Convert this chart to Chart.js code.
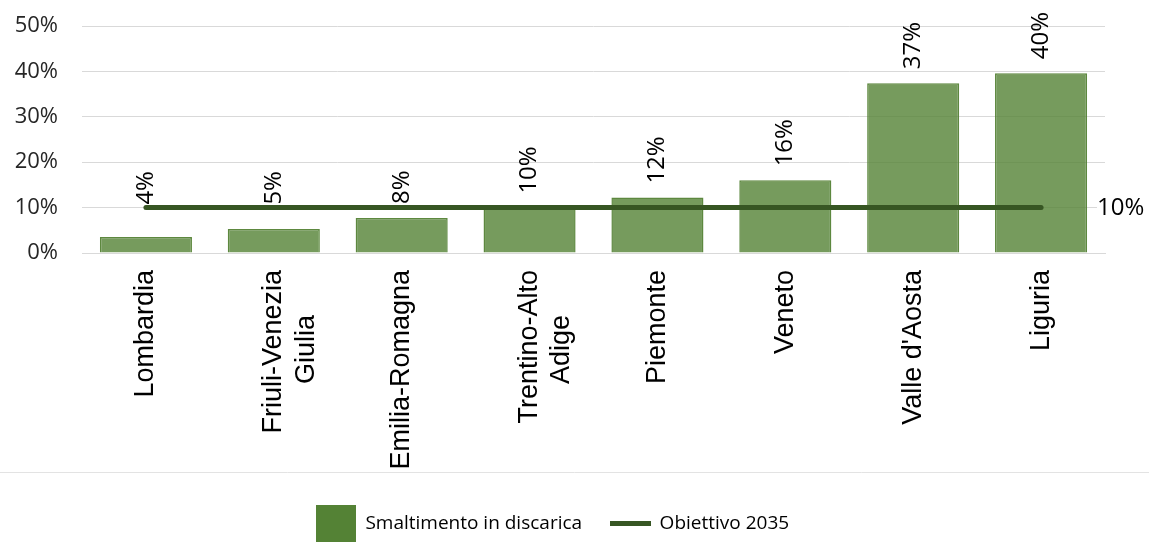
<!DOCTYPE html>
<html>
<head>
<meta charset="utf-8">
<script src="https://cdn.jsdelivr.net/npm/chart.js@4/dist/chart.umd.min.js"></script>
<style>
  html, body { margin: 0; background: #fff; }
  #wrap { width: 1149px; height: 543px; }
</style>
</head>
<body>
<div id="wrap"><canvas id="chart"></canvas></div>
<script>
// Data (second lines padded so they sit centred under the first)
const regions = ["Lombardia", ["Friuli-Venezia", "Giulia      "], "Emilia-Romagna", ["Trentino-Alto", "Adige      "],
  "Piemonte", "Veneto", "Valle d'Aosta", "Liguria"];
const landfillShare = [3.5, 5.3, 7.7, 10.0, 12.2, 16.0, 37.4, 39.6];
const target2035 = [10, 10, 10, 10, 10, 10, 10, 10];
const yTicks = [0, 10, 20, 30, 40, 50];

const BAR_GREEN = "#548235";
const LINE_GREEN = "#375623";

// small canvases used as legend markers
function marker(w, h, color) {
  const c = document.createElement("canvas");
  c.width = w; c.height = h;
  const g = c.getContext("2d");
  g.fillStyle = color;
  g.fillRect(0, 0, w, h);
  return c;
}

// value labels above the bars + the "10%" at the end of the target line
const valueLabels = {
  id: "valueLabels",
  afterDatasetsDraw(chart) {
    const ctx = chart.ctx;
    const bars = chart.getDatasetMeta(0).data;
    const lineY = chart.scales.y.getPixelForValue(target2035[0]);
    ctx.save();
    ctx.font = '24px "Open Sans"';
    ctx.fillStyle = "#000";
    ctx.textAlign = "left";
    ctx.textBaseline = "middle";
    bars.forEach((bar, i) => {
      const start = Math.min(bar.y - 14, lineY - 3);
      ctx.save();
      ctx.translate(bar.x, start);
      ctx.rotate(-Math.PI / 2);
      ctx.fillText(Math.round(landfillShare[i]) + "%", 0, 0);
      ctx.restore();
    });
    const x = chart.chartArea.right - 8;
    const txt = target2035[target2035.length - 1] + "%";
    const w = ctx.measureText(txt).width;
    ctx.fillStyle = "#fff";
    ctx.fillRect(x, lineY - 13, w + 4, 26);
    ctx.fillStyle = "#000";
    ctx.fillText(txt, x, lineY + 1);
    ctx.restore();
  }
};

// thin rule above the legend
const legendRule = {
  id: "legendRule",
  afterDraw(chart) {
    const ctx = chart.ctx;
    ctx.save();
    ctx.strokeStyle = "#e3e3e3";
    ctx.lineWidth = 1;
    ctx.beginPath();
    ctx.moveTo(0, 472.5);
    ctx.lineTo(chart.width, 472.5);
    ctx.stroke();
    ctx.restore();
  }
};

const ctx = document.getElementById("chart").getContext("2d");
new Chart(ctx, {
  type: "bar",
  data: {
    labels: regions,
    datasets: [
      {
        type: "bar",
        label: "Smaltimento in discarica",
        data: landfillShare,
        backgroundColor: "rgba(84, 130, 53, 0.8)",
        borderColor: "rgba(84, 130, 53, 0.95)",
        borderWidth: 1.5,
        categoryPercentage: 1,
        barPercentage: 0.72,
        pointStyle: marker(40, 37, BAR_GREEN),
        order: 1
      },
      {
        type: "line",
        label: "Obiettivo 2035",
        data: target2035,
        borderColor: LINE_GREEN,
        backgroundColor: LINE_GREEN,
        borderWidth: 5,
        borderCapStyle: "round",
        pointRadius: 0,
        pointHoverRadius: 0,
        pointStyle: marker(41, 5, LINE_GREEN),
        order: 0
      }
    ]
  },
  options: {
    responsive: true,
    maintainAspectRatio: false,
    animation: false,
    layout: { padding: { top: 26, right: 44, left: 0, bottom: 0 } },
    scales: {
      x: {
        grid: { display: false },
        border: { color: "#d9d9d9", width: 1 },
        ticks: {
          color: "#000",
          font: { family: '"Liberation Sans", Arial', size: 27 },
          maxRotation: 90,
          minRotation: 90,
          padding: 9
        },
        afterFit(scale) {
          scale.height = 233;
          scale.paddingTop = 0;
          scale.paddingBottom = 0;
        }
      },
      y: {
        min: 0,
        max: 50,
        border: { display: false },
        grid: { color: "#d9d9d9", drawTicks: false },
        afterBuildTicks(scale) { scale.ticks = yTicks.map(v => ({ value: v })); },
        ticks: {
          color: "#262626",
          font: { family: '"Open Sans"', size: 22 },
          padding: 24,
          callback: v => v + "%"
        },
        afterFit(scale) {
          scale.width = 82;
          scale.paddingTop = 0;
          scale.paddingBottom = 0;
        }
      }
    },
    plugins: {
      legend: {
        position: "bottom",
        labels: {
          usePointStyle: true,
          pointStyleWidth: 40,
          color: "#000",
          font: { family: '"Open Sans"', size: 19 },
          padding: 28,
          sort: (a, b) => a.datasetIndex - b.datasetIndex
        }
      },
      tooltip: { enabled: false }
    }
  },
  plugins: [valueLabels, legendRule]
});
</script>
</body>
</html>
